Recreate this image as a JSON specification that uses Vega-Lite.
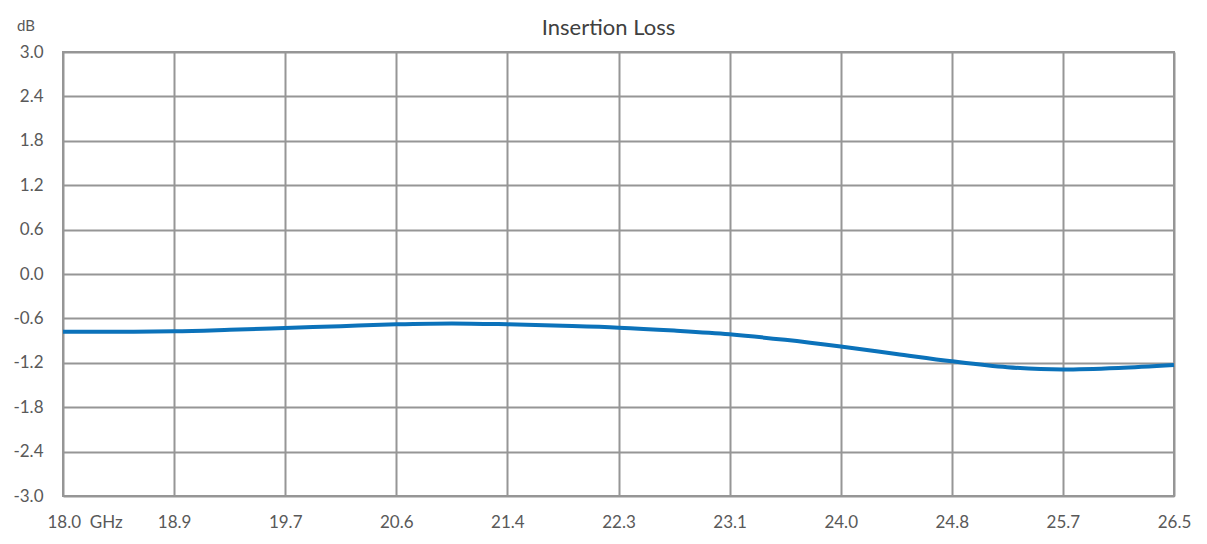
{
  "$schema": "https://vega.github.io/schema/vega-lite/v6.json",
  "width": 1111,
  "height": 444,
  "autosize": {"type": "none"},
  "padding": {"left": 63, "top": 52, "right": 33, "bottom": 48},
  "background": "white",
  "title": {
    "text": "Insertion Loss",
    "font": "Lato",
    "fontSize": 22,
    "fontWeight": "normal",
    "color": "#404040",
    "anchor": "middle",
    "baseline": "alphabetic",
    "offset": -38,
    "dx": -10
  },
  "config": {
    "view": {"stroke": "#969696", "strokeWidth": 2},
    "axis": {
      "labelFont": "Lato",
      "labelFontSize": 17,
      "labelColor": "#595959",
      "gridColor": "#969696",
      "gridWidth": 2,
      "gridOpacity": 1,
      "domain": false,
      "ticks": false
    }
  },
  "datasets": {
    "curve": [
      {"freq": 18.0, "loss": -0.78},
      {"freq": 18.425, "loss": -0.78},
      {"freq": 18.85, "loss": -0.775},
      {"freq": 19.275, "loss": -0.755},
      {"freq": 19.7, "loss": -0.73},
      {"freq": 20.125, "loss": -0.705},
      {"freq": 20.55, "loss": -0.68},
      {"freq": 20.975, "loss": -0.668},
      {"freq": 21.4, "loss": -0.68},
      {"freq": 21.825, "loss": -0.7},
      {"freq": 22.25, "loss": -0.725},
      {"freq": 22.675, "loss": -0.765},
      {"freq": 23.1, "loss": -0.815},
      {"freq": 23.525, "loss": -0.89},
      {"freq": 23.95, "loss": -0.98},
      {"freq": 24.375, "loss": -1.08},
      {"freq": 24.8, "loss": -1.18},
      {"freq": 25.225, "loss": -1.26},
      {"freq": 25.65, "loss": -1.29},
      {"freq": 26.075, "loss": -1.27},
      {"freq": 26.5, "loss": -1.23}
    ],
    "unit": [
      {"freq": 18.0, "loss": 3.0, "label": "dB"}
    ]
  },
  "layer": [
    {
      "data": {"name": "curve"},
      "mark": {"type": "line", "color": "#0B72BA", "strokeWidth": 4, "interpolate": "monotone"},
      "encoding": {
        "x": {
          "field": "freq",
          "type": "quantitative",
          "scale": {"domain": [18, 26.5], "nice": false, "zero": false},
          "axis": {
            "title": null,
            "values": [18, 18.85, 19.7, 20.55, 21.4, 22.25, 23.1, 23.95, 24.8, 25.65, 26.5],
            "labelExpr": "datum.value == 18 ? '18.0\u00a0\u00a0GHz' : format(datum.value + 0.0001, '.1f')",
            "labelAlign": {"condition": {"test": "datum.value == 18", "value": "left"}, "value": "center"},
            "labelOffset": {"condition": {"test": "datum.value == 18", "value": -16}, "value": 0},
            "labelFlush": false,
            "labelOverlap": false,
            "labelPadding": 18
          }
        },
        "y": {
          "field": "loss",
          "type": "quantitative",
          "scale": {"domain": [-3, 3], "nice": false, "zero": false},
          "axis": {
            "title": null,
            "values": [-3, -2.4, -1.8, -1.2, -0.6, 0, 0.6, 1.2, 1.8, 2.4, 3],
            "labelExpr": "replace(format(datum.value, '.1f'), '\u2212', '-')",
            "labelFlush": false,
            "labelOverlap": false,
            "labelPadding": 20,
            "labelBaseline": "middle"
          }
        }
      }
    },
    {
      "data": {"name": "unit"},
      "mark": {"type": "text", "font": "Lato", "fontSize": 15, "color": "#595959", "align": "left", "baseline": "alphabetic", "dx": -46, "dy": -21, "clip": false},
      "encoding": {
        "x": {"field": "freq", "type": "quantitative"},
        "y": {"field": "loss", "type": "quantitative"},
        "text": {"field": "label"}
      }
    }
  ]
}
